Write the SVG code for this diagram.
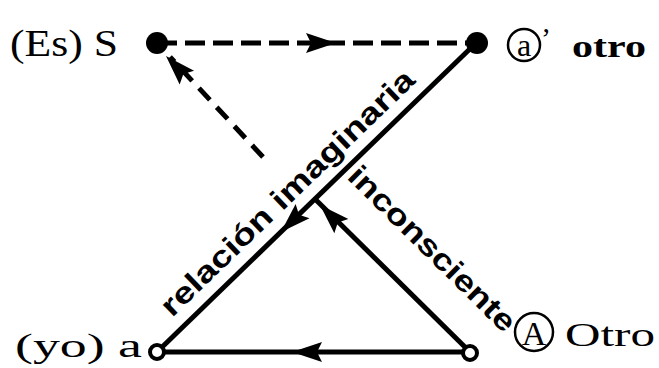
<svg xmlns="http://www.w3.org/2000/svg" width="659" height="368" viewBox="0 0 659 368">
<style>
.ln{stroke:#000;stroke-width:5;fill:none}
.dash{stroke-dasharray:20 8}
.dash2{stroke-dasharray:16 10}
.lbl{font-family:"Liberation Serif","DejaVu Serif",serif;fill:#000}
.diag{font-family:"Liberation Sans","DejaVu Sans",sans-serif;font-weight:bold;fill:#000;font-size:30px}
.full{fill:#000}
.open{fill:#fff;stroke:#000;stroke-width:4}
.circ{fill:none;stroke:#000;stroke-width:2.5}
</style>
<defs>
<path id="ah" d="M0,0 L-30,-10 L-25,0 L-30,10 Z" fill="#000"/>
</defs>
<rect width="659" height="368" fill="#fff"/>
<g id="connectors">
<line class="ln dash" x1="157" y1="43" x2="476" y2="43"/>
<use href="#ah" transform="translate(336,43)"/>
<line class="ln" x1="476" y1="43" x2="157" y2="352"/>
<use href="#ah" transform="translate(281,232) rotate(136)"/>
<line class="ln" x1="470" y1="352" x2="157" y2="352"/>
<use href="#ah" transform="translate(292,352) rotate(180)"/>
<line class="ln" x1="470" y1="352" x2="316" y2="200"/>
<use href="#ah" transform="translate(320,205) rotate(224.6)"/>
<line class="ln dash2" x1="263" y1="157" x2="170" y2="57"/>
<use href="#ah" transform="translate(166,56) rotate(226)"/>
</g>
<g id="node-S">
<circle class="full" cx="157" cy="43" r="11"/>
<text class="lbl" x="10" y="56" font-size="38" textLength="108" lengthAdjust="spacingAndGlyphs">(Es) S</text>
</g>
<g id="node-a-prime">
<circle class="full" cx="477" cy="43" r="11"/>
<circle class="circ" cx="524" cy="45" r="16"/>
<text class="lbl" x="524" y="56" font-size="32" text-anchor="middle">a</text>
<text class="lbl" x="541" y="48" font-size="30">’</text>
<text class="lbl" x="572" y="57" font-size="32" font-weight="bold" textLength="74" lengthAdjust="spacingAndGlyphs">otro</text>
</g>
<g id="node-a">
<circle class="open" cx="157" cy="352" r="7"/>
<text class="lbl" x="15" y="357" font-size="34" textLength="127" lengthAdjust="spacingAndGlyphs">(yo) a</text>
</g>
<g id="node-A">
<circle class="open" cx="470" cy="353" r="7"/>
<circle class="circ" cx="534" cy="332" r="19"/>
<text class="lbl" x="534" y="345" font-size="34" text-anchor="middle">A</text>
<text class="lbl" x="565" y="346" font-size="34" textLength="90" lengthAdjust="spacingAndGlyphs">Otro</text>
</g>
<g id="label-imaginaria">
<text class="diag" transform="translate(172,318) rotate(-44)" textLength="340" lengthAdjust="spacingAndGlyphs">relación imaginaria</text>
</g>
<g id="label-inconsciente">
<text class="diag" transform="translate(346,178) rotate(44.6)" textLength="222" lengthAdjust="spacingAndGlyphs">inconsciente</text>
</g>
</svg>
